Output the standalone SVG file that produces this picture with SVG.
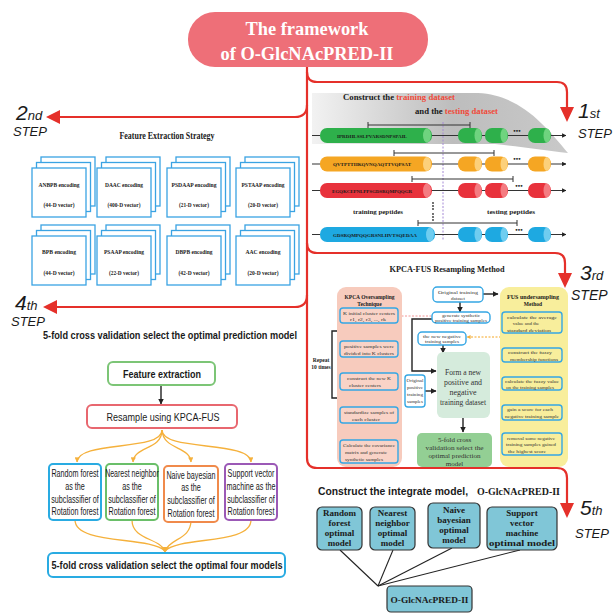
<svg xmlns="http://www.w3.org/2000/svg" width="614" height="613" viewBox="0 0 614 613">
<defs>
<style>
.st{font-family:"Liberation Sans",Arial,sans-serif;font-style:italic;fill:#1a1a1a}
.sb{font-family:"Liberation Serif","Times New Roman",serif;font-weight:bold;fill:#1a1a1a}
.sr{font-family:"Liberation Serif","Times New Roman",serif;fill:#333}
.nb{font-family:"Liberation Sans",Arial,sans-serif;font-weight:bold;fill:#1a1a1a}
.n{font-family:"Liberation Sans",Arial,sans-serif;fill:#1a1a1a}
.red{fill:none;stroke:#e5302a;stroke-width:2.2}
.card{fill:#fff;stroke:#3aa3e3;stroke-width:1.3}
.ib{stroke:#35a7e4;stroke-width:1.4}
.dk{fill:none;stroke:#222;stroke-width:1.4}
.or{fill:none;stroke:#f5b13c;stroke-width:1.3}
.mb{fill:#80c6d7;stroke:#333;stroke-width:1.2}
.sq{font-family:"Liberation Serif",serif;font-weight:bold;font-size:5px;fill:#1a1a1a}
</style>
<marker id="ah" viewBox="0 0 10 10" refX="9" refY="5" markerWidth="4" markerHeight="4" orient="auto"><path d="M0,0L10,5L0,10z" fill="#222"/></marker>
<marker id="ao" viewBox="0 0 10 10" refX="9" refY="5" markerWidth="4" markerHeight="4" orient="auto"><path d="M0,0L10,5L0,10z" fill="#f5b13c"/></marker>
<linearGradient id="gs" x1="0" y1="0" x2="1" y2="0">
<stop offset="0" stop-color="#f2f2f2"/><stop offset="0.55" stop-color="#bdbdbd"/><stop offset="1" stop-color="#c9c9c9"/>
</linearGradient>
</defs>
<rect width="614" height="613" fill="#fff"/>

<!-- connectors -->
<g id="connectors">
<path class="red" d="M307,67 V458 Q307,468 317,468 H557 Q567,468 567,478 V504"/>
<path class="red" d="M307,72 Q307,82 317,82 H557 Q567,82 567,92 V108"/>
<path class="red" d="M307,105 Q307,117 295,117 H58"/>
<path class="red" d="M307,243 Q307,253 317,253 H555 Q565,253 565,263 V274"/>
<path class="red" d="M307,295 Q307,307 295,307 H55"/>
<path d="M560,107 L574,107 L567,122 Z" fill="#e5302a"/>
<path d="M558,273 L572,273 L565,288 Z" fill="#e5302a"/>
<path d="M560,503 L574,503 L567,518 Z" fill="#e5302a"/>
<path d="M60,110 L60,124 L46,117 Z" fill="#e5302a"/>
<path d="M57,300 L57,314 L43,307 Z" fill="#e5302a"/>
<!-- step 4 flow -->
<line class="dk" x1="161" y1="385" x2="161" y2="404" marker-end="url(#ah)" stroke-width="1.2"/>
<path class="or" d="M162,430 C162,452 78,440 77,462" marker-end="url(#ao)"/>
<path class="or" d="M162,430 C162,450 134,446 133,462" marker-end="url(#ao)"/>
<path class="or" d="M162,430 C163,450 190,446 191,462" marker-end="url(#ao)"/>
<path class="or" d="M162,430 C162,452 250,440 251,462" marker-end="url(#ao)"/>
<path class="or" d="M75,520 C75,545 150,536 165,551"/>
<path class="or" d="M132,520 C132,540 160,538 165,551"/>
<path class="or" d="M191,520 C191,540 170,538 165,551"/>
<path class="or" d="M251,520 C251,545 180,536 165,551"/>
<path d="M161,547 L169,547 L165,553 Z" fill="#f5b13c"/>
<!-- step 3 -->
<line class="dk" x1="369" y1="323" x2="369" y2="340" marker-end="url(#ah)"/>
<line class="dk" x1="369" y1="357" x2="369" y2="372" marker-end="url(#ah)"/>
<line class="dk" x1="369" y1="390" x2="369" y2="406" marker-end="url(#ah)"/>
<line class="dk" x1="369" y1="423" x2="369" y2="439" marker-end="url(#ah)"/>
<path class="dk" d="M369,331 H332 V398 H369"/>
<line class="dk" x1="483" y1="294" x2="498" y2="294" marker-end="url(#ah)"/>
<line class="dk" x1="460" y1="302" x2="460" y2="312" marker-end="url(#ah)"/>
<line x1="398" y1="316" x2="432" y2="316" stroke="#f08a8a" stroke-width="0.9" stroke-dasharray="2,1.5"/>
<line x1="501" y1="337" x2="467" y2="337" stroke="#f5a623" stroke-width="1" stroke-dasharray="2,1.5" marker-end="url(#ao)"/>
<line class="dk" x1="443" y1="345" x2="443" y2="353" marker-end="url(#ah)"/>
<path class="dk" d="M432,319 H412 V371 H436" marker-end="url(#ah)"/>
<line class="dk" x1="425" y1="391" x2="436" y2="391" marker-end="url(#ah)"/>
<line class="dk" x1="463" y1="418" x2="463" y2="432" marker-end="url(#ah)"/>
<line class="dk" x1="532" y1="333" x2="532" y2="347" marker-end="url(#ah)"/>
<line class="dk" x1="532" y1="362" x2="532" y2="376" marker-end="url(#ah)"/>
<line class="dk" x1="532" y1="390" x2="532" y2="404" marker-end="url(#ah)"/>
<line class="dk" x1="532" y1="420" x2="532" y2="432" marker-end="url(#ah)"/>
<!-- step 5 -->
<line x1="340" y1="550" x2="378" y2="586" stroke="#222" stroke-width="1.1"/>
<line x1="393" y1="550" x2="378" y2="586" stroke="#222" stroke-width="1.1"/>
<line x1="452" y1="548" x2="378" y2="586" stroke="#222" stroke-width="1.1"/>
<line x1="520" y1="550" x2="378" y2="586" stroke="#222" stroke-width="1.1"/>
</g>

<!-- title -->
<g id="title">
<rect x="188" y="12" width="240" height="55" rx="27" fill="#ee6f78"/>
<text class="sb" x="307" y="35" font-size="18" text-anchor="middle" style="fill:#fff" textLength="123" lengthAdjust="spacingAndGlyphs">The framework</text>
<text class="sb" x="307" y="60" font-size="18" text-anchor="middle" style="fill:#fff" textLength="173" lengthAdjust="spacingAndGlyphs">of O-GlcNAcPRED-II</text>
</g>

<!-- step labels -->
<g id="step-labels">
<text class="st" x="578" y="118"><tspan font-size="21">1</tspan><tspan font-size="13">st</tspan></text>
<text class="st" x="578" y="138" font-size="13">STEP</text>
<text class="st" x="16" y="120"><tspan font-size="21">2</tspan><tspan font-size="13">nd</tspan></text>
<text class="st" x="13" y="136" font-size="13">STEP</text>
<text class="st" x="580" y="280"><tspan font-size="21">3</tspan><tspan font-size="13">rd</tspan></text>
<text class="st" x="571" y="300" font-size="14">STEP</text>
<text class="st" x="15" y="310"><tspan font-size="21">4</tspan><tspan font-size="13">th</tspan></text>
<text class="st" x="11" y="326" font-size="13">STEP</text>
<text class="st" x="580" y="515"><tspan font-size="21">5</tspan><tspan font-size="13">th</tspan></text>
<text class="st" x="575" y="538" font-size="13">STEP</text>
</g>

<!-- step 1: datasets -->
<g id="dataset">
<path d="M312,93 L478,93 C520,95 545,125 568,153 C545,150 515,146 495,144 L312,144 Z" fill="url(#gs)"/>
<text class="sb" x="343" y="100" font-size="7.5" textLength="112" lengthAdjust="spacingAndGlyphs">Construct the <tspan style="fill:#f04a3a">training dataset</tspan></text>
<text class="sb" x="415" y="114" font-size="7.5" textLength="83" lengthAdjust="spacingAndGlyphs">and the <tspan style="fill:#f04a3a">testing dataset</tspan></text>
<line x1="443" y1="122" x2="443" y2="241" stroke="#a58ad6" stroke-width="1" stroke-dasharray="2,1.5"/>
<g stroke="#333" stroke-width="1">
<path d="M368,125 H470 M368,122 V128 M470,122 V128"/>
<path d="M394,153 H494 M394,150 V156 M494,150 V156"/>
<path d="M412,179 H513 M412,176 V182 M513,176 V182"/>
<path d="M418,223 H517 M418,220 V226 M517,220 V226"/>
</g>
<g stroke="#333" stroke-width="1.1">
<line x1="312" y1="135.5" x2="566" y2="135.5" marker-end="url(#ah)"/>
<line x1="312" y1="164" x2="566" y2="164" marker-end="url(#ah)"/>
<line x1="312" y1="190.5" x2="566" y2="190.5" marker-end="url(#ah)"/>
<line x1="312" y1="234.5" x2="566" y2="234.5" marker-end="url(#ah)"/>
</g>
<g fill="#2eb04b">
<rect x="320" y="128" width="112" height="15" rx="7"/><rect x="458" y="128" width="24" height="15" rx="7"/><rect x="485" y="128" width="23" height="15" rx="7"/><rect x="528" y="128" width="23" height="15" rx="7"/>
</g>
<g fill="#6fd37f"><ellipse cx="427" cy="135.5" rx="4" ry="7"/><ellipse cx="478" cy="135.5" rx="3.5" ry="7"/><ellipse cx="504" cy="135.5" rx="3.5" ry="7"/><ellipse cx="547" cy="135.5" rx="3.5" ry="7"/></g>
<g fill="#f5a623">
<rect x="320" y="156.5" width="112" height="15" rx="7"/><rect x="458" y="156.5" width="24" height="15" rx="7"/><rect x="485" y="156.5" width="23" height="15" rx="7"/><rect x="528" y="156.5" width="23" height="15" rx="7"/>
</g>
<g fill="#fcd07a"><ellipse cx="427" cy="164" rx="4" ry="7"/><ellipse cx="478" cy="164" rx="3.5" ry="7"/><ellipse cx="504" cy="164" rx="3.5" ry="7"/><ellipse cx="547" cy="164" rx="3.5" ry="7"/></g>
<g fill="#e8323c">
<rect x="320" y="183" width="112" height="15" rx="7"/><rect x="458" y="183" width="24" height="15" rx="7"/><rect x="485" y="183" width="23" height="15" rx="7"/><rect x="528" y="183" width="23" height="15" rx="7"/>
</g>
<g fill="#f47c82"><ellipse cx="427" cy="190.5" rx="4" ry="7"/><ellipse cx="478" cy="190.5" rx="3.5" ry="7"/><ellipse cx="504" cy="190.5" rx="3.5" ry="7"/><ellipse cx="547" cy="190.5" rx="3.5" ry="7"/></g>
<g fill="#1ea9e1">
<rect x="320" y="227" width="115" height="15" rx="7"/><rect x="458" y="227" width="24" height="15" rx="7"/><rect x="485" y="227" width="23" height="15" rx="7"/><rect x="528" y="227" width="23" height="15" rx="7"/>
</g>
<g fill="#6fcdf0"><ellipse cx="430" cy="234.5" rx="4" ry="7"/><ellipse cx="478" cy="234.5" rx="3.5" ry="7"/><ellipse cx="504" cy="234.5" rx="3.5" ry="7"/><ellipse cx="547" cy="234.5" rx="3.5" ry="7"/></g>
<text class="sq" x="372" y="137.5" text-anchor="middle" textLength="70" lengthAdjust="spacingAndGlyphs">IPRDHLSSLPVARSDNPSPAIL</text>
<text class="sq" x="372" y="166" text-anchor="middle" textLength="78" lengthAdjust="spacingAndGlyphs">QVTPTTHKQVNQAQTTVQPSAT</text>
<text class="sq" x="372" y="192.5" text-anchor="middle" textLength="80" lengthAdjust="spacingAndGlyphs">EGQKCEPNLPPSGDSRQMPQQGR</text>
<text class="sq" x="375" y="236.5" text-anchor="middle" textLength="84" lengthAdjust="spacingAndGlyphs">GDSRQMPQQGRSNLHVTSQEDAA</text>
<g class="sb" font-size="7"><text x="517" y="133" text-anchor="middle">•••</text><text x="517" y="161" text-anchor="middle">•••</text><text x="519" y="188" text-anchor="middle">•••</text><text x="519" y="232" text-anchor="middle">•••</text></g>
<g fill="#333"><circle cx="433" cy="203" r="0.9"/><circle cx="433" cy="206" r="0.9"/><circle cx="433" cy="209" r="0.9"/><circle cx="433" cy="214" r="0.9"/><circle cx="433" cy="217" r="0.9"/><circle cx="433" cy="220" r="0.9"/></g>
<text class="sb" x="378" y="214" font-size="6" text-anchor="middle" textLength="50" lengthAdjust="spacingAndGlyphs">training peptides</text>
<text class="sb" x="511" y="214" font-size="6" text-anchor="middle" textLength="48" lengthAdjust="spacingAndGlyphs">testing peptides</text>
</g>

<!-- step 2: feature extraction strategy -->
<g id="feature-strategy">
<text class="sb" x="167" y="139" font-size="10" text-anchor="middle" textLength="95" lengthAdjust="spacingAndGlyphs">Feature Extraction Strategy</text>
</g>
<g id="card-anbpb"><rect class="card" x="41" y="157" width="54" height="49"/><rect class="card" x="36.5" y="162.5" width="54" height="49"/><rect class="card" x="32" y="168" width="54" height="49"/>
<text class="sb" x="59" y="187" font-size="6.5" text-anchor="middle" textLength="41" lengthAdjust="spacingAndGlyphs">ANBPB encoding</text><text class="sb" x="59" y="207" font-size="6" text-anchor="middle" textLength="31" lengthAdjust="spacingAndGlyphs">(44-D vector)</text></g>
<g id="card-daac"><rect class="card" x="106" y="157" width="54" height="49"/><rect class="card" x="101.5" y="162.5" width="54" height="49"/><rect class="card" x="97" y="168" width="54" height="49"/>
<text class="sb" x="124" y="187" font-size="6.5" text-anchor="middle" textLength="38" lengthAdjust="spacingAndGlyphs">DAAC encoding</text><text class="sb" x="124" y="207" font-size="6" text-anchor="middle" textLength="33" lengthAdjust="spacingAndGlyphs">(400-D vector)</text></g>
<g id="card-psdaap"><rect class="card" x="176" y="157" width="54" height="49"/><rect class="card" x="171.5" y="162.5" width="54" height="49"/><rect class="card" x="167" y="168" width="54" height="49"/>
<text class="sb" x="194" y="187" font-size="6.5" text-anchor="middle" textLength="45" lengthAdjust="spacingAndGlyphs">PSDAAP encoding</text><text class="sb" x="194" y="207" font-size="6" text-anchor="middle" textLength="30" lengthAdjust="spacingAndGlyphs">(21-D vector)</text></g>
<g id="card-pstaap"><rect class="card" x="245" y="157" width="54" height="49"/><rect class="card" x="240.5" y="162.5" width="54" height="49"/><rect class="card" x="236" y="168" width="54" height="49"/>
<text class="sb" x="263" y="187" font-size="6.5" text-anchor="middle" textLength="43" lengthAdjust="spacingAndGlyphs">PSTAAP encoding</text><text class="sb" x="263" y="207" font-size="6" text-anchor="middle" textLength="30" lengthAdjust="spacingAndGlyphs">(20-D vector)</text></g>
<g id="card-bpb"><rect class="card" x="41" y="225" width="54" height="49"/><rect class="card" x="36.5" y="230.5" width="54" height="49"/><rect class="card" x="32" y="236" width="54" height="49"/>
<text class="sb" x="59" y="254" font-size="6.5" text-anchor="middle" textLength="34" lengthAdjust="spacingAndGlyphs">BPB encoding</text><text class="sb" x="59" y="275" font-size="6" text-anchor="middle" textLength="31" lengthAdjust="spacingAndGlyphs">(44-D vector)</text></g>
<g id="card-psaap"><rect class="card" x="106" y="225" width="54" height="49"/><rect class="card" x="101.5" y="230.5" width="54" height="49"/><rect class="card" x="97" y="236" width="54" height="49"/>
<text class="sb" x="124" y="254" font-size="6.5" text-anchor="middle" textLength="40" lengthAdjust="spacingAndGlyphs">PSAAP encoding</text><text class="sb" x="124" y="275" font-size="6" text-anchor="middle" textLength="30" lengthAdjust="spacingAndGlyphs">(22-D vector)</text></g>
<g id="card-dbpb"><rect class="card" x="176" y="225" width="54" height="49"/><rect class="card" x="171.5" y="230.5" width="54" height="49"/><rect class="card" x="167" y="236" width="54" height="49"/>
<text class="sb" x="194" y="254" font-size="6.5" text-anchor="middle" textLength="37" lengthAdjust="spacingAndGlyphs">DBPB encoding</text><text class="sb" x="194" y="275" font-size="6" text-anchor="middle" textLength="31" lengthAdjust="spacingAndGlyphs">(42-D vector)</text></g>
<g id="card-aac"><rect class="card" x="245" y="225" width="54" height="49"/><rect class="card" x="240.5" y="230.5" width="54" height="49"/><rect class="card" x="236" y="236" width="54" height="49"/>
<text class="sb" x="263" y="254" font-size="6.5" text-anchor="middle" textLength="35" lengthAdjust="spacingAndGlyphs">AAC encoding</text><text class="sb" x="263" y="275" font-size="6" text-anchor="middle" textLength="31" lengthAdjust="spacingAndGlyphs">(20-D vector)</text></g>

<!-- step 4 -->
<g id="step4-title"><text class="nb" x="43" y="339" font-size="11" textLength="254" lengthAdjust="spacingAndGlyphs">5-fold cross validation select the optimal prediction model</text></g>
<g id="feature-extraction"><rect x="108" y="362" width="107" height="23" rx="5" fill="#fff" stroke="#7cc576" stroke-width="2"/>
<text class="nb" x="162" y="378" font-size="11" text-anchor="middle" textLength="78" lengthAdjust="spacingAndGlyphs">Feature extraction</text></g>
<g id="resample"><rect x="87" y="405" width="150" height="23" rx="5" fill="#fff" stroke="#e8676f" stroke-width="2"/>
<text class="n" x="163" y="421" font-size="11" text-anchor="middle" textLength="113" lengthAdjust="spacingAndGlyphs">Resample using KPCA-FUS</text></g>
<g id="clf-rf"><rect x="49" y="464" width="52" height="56" rx="4" fill="#fff" stroke="#29abe2" stroke-width="2"/>
<g class="n" font-size="10" text-anchor="middle"><text transform="translate(75,477) scale(0.72,1)">Random forest</text><text transform="translate(75,490) scale(0.72,1)">as the</text><text transform="translate(75,503) scale(0.72,1)">subclassifier of</text><text transform="translate(75,515) scale(0.72,1)">Rotation forest</text></g></g>
<g id="clf-nn"><rect x="106" y="464" width="52" height="56" rx="4" fill="#fff" stroke="#6abf69" stroke-width="2"/>
<g class="n" font-size="10" text-anchor="middle"><text transform="translate(132,477) scale(0.7,1)">Nearest neighbor</text><text transform="translate(132,490) scale(0.72,1)">as the</text><text transform="translate(132,503) scale(0.72,1)">subclassifier of</text><text transform="translate(132,515) scale(0.72,1)">Rotation forest</text></g></g>
<g id="clf-nb"><rect x="164" y="466" width="54" height="56" rx="4" fill="#fff" stroke="#f08a4b" stroke-width="2"/>
<g class="n" font-size="10" text-anchor="middle"><text transform="translate(191,479) scale(0.72,1)">Naive bayesian</text><text transform="translate(191,491) scale(0.72,1)">as the</text><text transform="translate(191,504) scale(0.72,1)">subclassifier of</text><text transform="translate(191,517) scale(0.72,1)">Rotation forest</text></g></g>
<g id="clf-svm"><rect x="225" y="464" width="52" height="56" rx="4" fill="#fff" stroke="#9b59b6" stroke-width="2"/>
<g class="n" font-size="10" text-anchor="middle"><text transform="translate(251,477) scale(0.72,1)">Support vector</text><text transform="translate(251,490) scale(0.72,1)">machine as the</text><text transform="translate(251,503) scale(0.72,1)">subclassifier of</text><text transform="translate(251,515) scale(0.72,1)">Rotation forest</text></g></g>
<g id="cv-four"><rect x="48" y="553" width="237" height="24" rx="5" fill="#fff" stroke="#29abe2" stroke-width="2"/>
<text class="nb" x="167" y="569" font-size="11" text-anchor="middle" textLength="231" lengthAdjust="spacingAndGlyphs">5-fold cross validation select the optimal four models</text></g>

<!-- step 3 -->
<g id="kpca-fus-title"><text class="sb" x="447" y="272" font-size="8" text-anchor="middle" textLength="115" lengthAdjust="spacingAndGlyphs">KPCA-FUS Resampling Method</text></g>
<g id="kpca-panel"><rect x="337" y="287" width="65" height="180" rx="9" fill="#f7cbbd"/>
<text class="sb" x="369.5" y="299" font-size="5.5" text-anchor="middle" textLength="50" lengthAdjust="spacingAndGlyphs">KPCA Oversampling</text>
<text class="sb" x="369.5" y="306" font-size="5.5" text-anchor="middle">Technique</text></g>
<g id="k1"><rect class="ib" x="340" y="308" width="58" height="15" rx="3" fill="#f9d3c7"/><text class="sr" x="343" y="314.5" font-size="5" textLength="52" lengthAdjust="spacingAndGlyphs">K  initial cluster centers</text><text class="sr" x="350" y="321" font-size="4.8" textLength="36" lengthAdjust="spacingAndGlyphs">r1, r2, r3, ..., rk</text></g>
<g id="k2"><rect class="ib" x="340" y="341" width="58" height="16" rx="3" fill="#f9d3c7"/><text class="sr" x="369" y="347.5" font-size="5" text-anchor="middle" textLength="50" lengthAdjust="spacingAndGlyphs">positive samples were</text><text class="sr" x="369" y="354.5" font-size="5" text-anchor="middle" textLength="50" lengthAdjust="spacingAndGlyphs">divided into K clusters</text></g>
<g id="k3"><rect class="ib" x="340" y="373" width="58" height="17" rx="3" fill="#f9d3c7"/><text class="sr" x="369" y="380" font-size="5" text-anchor="middle" textLength="44" lengthAdjust="spacingAndGlyphs">construct the new K</text><text class="sr" x="365" y="387" font-size="5" text-anchor="middle" textLength="32" lengthAdjust="spacingAndGlyphs">cluster centers</text></g>
<g id="k4"><rect class="ib" x="340" y="407" width="58" height="16" rx="3" fill="#f9d3c7"/><text class="sr" x="369" y="413.5" font-size="5" text-anchor="middle" textLength="50" lengthAdjust="spacingAndGlyphs">standardize samples of</text><text class="sr" x="366" y="420.5" font-size="5" text-anchor="middle" textLength="28" lengthAdjust="spacingAndGlyphs">each cluster</text></g>
<g id="k5"><rect class="ib" x="340" y="440" width="58" height="23" rx="3" fill="#f9d3c7"/><text class="sr" x="369" y="446.5" font-size="5" text-anchor="middle" textLength="52" lengthAdjust="spacingAndGlyphs">Calculate the covariance</text><text class="sr" x="366" y="453.5" font-size="5" text-anchor="middle" textLength="42" lengthAdjust="spacingAndGlyphs">matrix and generate</text><text class="sr" x="364" y="460.5" font-size="5" text-anchor="middle" textLength="38" lengthAdjust="spacingAndGlyphs">synthetic samples</text></g>
<g id="repeat"><text class="sb" x="321" y="362" font-size="5.5" text-anchor="middle">Repeat</text><text class="sb" x="321" y="369" font-size="5.5" text-anchor="middle">10 times</text></g>
<g id="orig-train"><rect class="ib" x="433" y="287" width="50" height="15" rx="4" fill="#fff"/><text class="sr" x="458" y="293.5" font-size="5" text-anchor="middle" textLength="40" lengthAdjust="spacingAndGlyphs">Original training</text><text class="sr" x="458" y="300" font-size="5" text-anchor="middle">dataset</text></g>
<g id="gen-synth"><rect class="ib" x="432" y="312" width="58" height="11" rx="4" fill="#fff"/><text class="sr" x="461" y="317" font-size="4.8" text-anchor="middle" textLength="38" lengthAdjust="spacingAndGlyphs">generate synthetic</text><text class="sr" x="461" y="322" font-size="4.8" text-anchor="middle" textLength="52" lengthAdjust="spacingAndGlyphs">positive training samples</text></g>
<g id="new-neg"><rect class="ib" x="418" y="332" width="48" height="13" rx="4" fill="#fff"/><text class="sr" x="442" y="337.5" font-size="5" text-anchor="middle" textLength="38" lengthAdjust="spacingAndGlyphs">the new negative</text><text class="sr" x="442" y="343" font-size="5" text-anchor="middle" textLength="34" lengthAdjust="spacingAndGlyphs">training samples</text></g>
<g id="form-new"><rect x="437" y="352" width="53" height="66" rx="6" fill="#d5ebdc"/>
<g class="sr" font-size="8" text-anchor="middle"><text x="463" y="375" textLength="36" lengthAdjust="spacingAndGlyphs">Form  a new</text><text x="463" y="385" textLength="38" lengthAdjust="spacingAndGlyphs">positive and</text><text x="463" y="395">negative</text><text x="463" y="405" textLength="46" lengthAdjust="spacingAndGlyphs">training dataset</text></g></g>
<g id="orig-pos"><rect class="ib" x="405" y="375" width="20" height="32" rx="3" fill="#fff"/><g class="sr" font-size="4.6" text-anchor="middle"><text x="415" y="382" textLength="17" lengthAdjust="spacingAndGlyphs">Original</text><text x="415" y="389" textLength="16" lengthAdjust="spacingAndGlyphs">positive</text><text x="415" y="396" textLength="16" lengthAdjust="spacingAndGlyphs">training</text><text x="415" y="403" textLength="16" lengthAdjust="spacingAndGlyphs">samples</text></g></g>
<g id="cv-pred"><rect x="417" y="433" width="75" height="34" rx="5" fill="#93cf94"/>
<g class="sr" font-size="7" text-anchor="middle"><text x="454.5" y="442">5-fold cross</text><text x="454.5" y="450" textLength="58" lengthAdjust="spacingAndGlyphs">validation select the</text><text x="454.5" y="458" textLength="52" lengthAdjust="spacingAndGlyphs">optimal prediction</text><text x="454.5" y="466">model</text></g></g>
<g id="fus-panel"><rect x="500" y="287" width="68" height="180" rx="9" fill="#f8ee9c"/>
<text class="sb" x="533" y="299" font-size="5.5" text-anchor="middle" textLength="52" lengthAdjust="spacingAndGlyphs">FUS undersampling</text>
<text class="sb" x="533" y="306" font-size="5.5" text-anchor="middle">Method</text></g>
<g id="f1"><rect class="ib" x="502" y="312" width="60" height="21" rx="3" fill="#f8ee9c"/><g class="sr" font-size="5" text-anchor="middle"><text x="532" y="318.5" textLength="50" lengthAdjust="spacingAndGlyphs">calculate the average</text><text x="526" y="325">value and the</text><text x="529" y="331.5" textLength="44" lengthAdjust="spacingAndGlyphs">standard deviation</text></g></g>
<g id="f2"><rect class="ib" x="502" y="348" width="60" height="14" rx="3" fill="#f8ee9c"/><g class="sr" font-size="5" text-anchor="middle"><text x="530" y="354" textLength="44" lengthAdjust="spacingAndGlyphs">construct the fuzzy</text><text x="534" y="360.5" textLength="48" lengthAdjust="spacingAndGlyphs">membership functions</text></g></g>
<g id="f3"><rect class="ib" x="502" y="377" width="60" height="13" rx="3" fill="#f8ee9c"/><g class="sr" font-size="5" text-anchor="middle"><text x="532" y="382.5" textLength="54" lengthAdjust="spacingAndGlyphs">calculate the fuzzy value</text><text x="530" y="388.5" textLength="48" lengthAdjust="spacingAndGlyphs">on the training samples</text></g></g>
<g id="f4"><rect class="ib" x="502" y="405" width="60" height="15" rx="3" fill="#f8ee9c"/><g class="sr" font-size="5" text-anchor="middle"><text x="530" y="411" textLength="46" lengthAdjust="spacingAndGlyphs">gain a score for each</text><text x="532" y="417.5" textLength="54" lengthAdjust="spacingAndGlyphs">negative training sample</text></g></g>
<g id="f5"><rect class="ib" x="502" y="433" width="60" height="22" rx="3" fill="#f8ee9c"/><g class="sr" font-size="5" text-anchor="middle"><text x="531" y="439.5" textLength="48" lengthAdjust="spacingAndGlyphs">removal some negative</text><text x="531" y="446" textLength="50" lengthAdjust="spacingAndGlyphs">training samples gained</text><text x="527" y="452.5" textLength="38" lengthAdjust="spacingAndGlyphs">the highest score</text></g></g>

<!-- step 5 -->
<g id="step5-title"><text x="318" y="495" font-size="10"><tspan class="nb" textLength="150" lengthAdjust="spacingAndGlyphs">Construct the integrate model,</tspan></text><text class="sb" x="477" y="495" font-size="9.5" textLength="83" lengthAdjust="spacingAndGlyphs">O-GlcNAcPRED-II</text></g>
<g id="m-rf"><rect class="mb" x="317" y="507" width="45" height="43" rx="5"/><g class="sb" font-size="9" text-anchor="middle"><text x="339.5" y="516">Random</text><text x="339.5" y="526">forest</text><text x="339.5" y="536">optimal</text><text x="339.5" y="546">model</text></g></g>
<g id="m-nn"><rect class="mb" x="370" y="507" width="45" height="43" rx="5"/><g class="sb" font-size="9" text-anchor="middle"><text x="392.5" y="516">Nearest</text><text x="392.5" y="526">neighbor</text><text x="392.5" y="536">optimal</text><text x="392.5" y="546">model</text></g></g>
<g id="m-nb"><rect class="mb" x="428" y="503" width="52" height="45" rx="5"/><g class="sb" font-size="9" text-anchor="middle"><text x="454" y="513">Naive</text><text x="454" y="523">bayesian</text><text x="454" y="533">optimal</text><text x="454" y="543">model</text></g></g>
<g id="m-svm"><rect class="mb" x="487" y="507" width="70" height="43" rx="5"/><g class="sb" font-size="9" text-anchor="middle"><text x="522" y="516">Support</text><text x="522" y="526">vector</text><text x="522" y="536">machine</text><text x="522" y="546" textLength="66" lengthAdjust="spacingAndGlyphs">optimal model</text></g></g>
<g id="final"><rect class="mb" x="387" y="586" width="85" height="26" rx="4"/><text class="sb" x="429.5" y="603" font-size="9" text-anchor="middle" textLength="78" lengthAdjust="spacingAndGlyphs">O-GlcNAcPRED-II</text></g>
</svg>
